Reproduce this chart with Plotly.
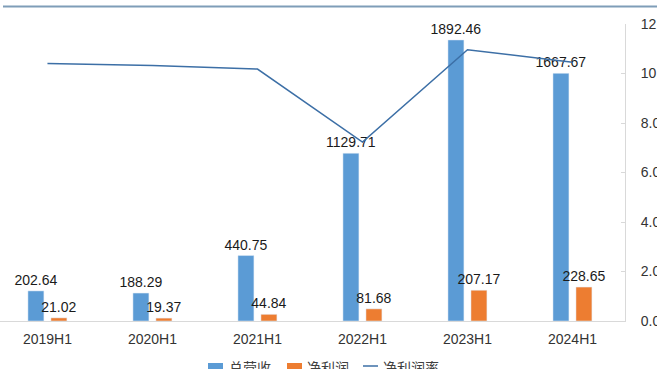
import plotly.graph_objects as go

categories = ["2019H1", "2020H1", "2021H1", "2022H1", "2023H1", "2024H1"]
revenue = [202.64, 188.29, 440.75, 1129.71, 1892.46, 1667.67]
net_profit = [21.02, 19.37, 44.84, 81.68, 207.17, 228.65]
net_margin = [10.40, 10.32, 10.18, 7.23, 10.96, 10.45]
right_ticks = [0, 2, 4, 6, 8, 10, 12]
right_ticktext = ["0.0%", "2.0%", "4.0%", "6.0%", "8.0%", "10.0%", "12.0%"]
legend_names = ["总营收", "净利润", "净利润率"]

W, H = 657, 369
L, R, T, B = 0, 32, 24, 48
PW, PH = W - L - R, H - T - B

BLUE = "#5B9BD5"
ORANGE = "#ED7D31"
LINE = "#3C6FA6"
FONT = "Liberation Sans, Arial, sans-serif"
CJK = "Noto Sans CJK SC, sans-serif"

def px(x):
    return (x - L) / PW

def py(y):
    return (H - B - y) / PH

xs = list(range(len(categories)))
bw = 0.152

fig = go.Figure()
fig.add_trace(go.Bar(
    x=xs, y=revenue, name=legend_names[0], marker_color=BLUE,
    width=bw, offset=-0.186,
    text=[f"{v:.2f}" for v in revenue], textposition="outside",
    constraintext="none",
    textfont=dict(family=FONT, size=14, color="#1a1a1a"),
    cliponaxis=False, showlegend=False,
))
fig.add_trace(go.Bar(
    x=xs, y=net_profit, name=legend_names[1], marker_color=ORANGE,
    width=bw, offset=0.033,
    text=[f"{v:.2f}" for v in net_profit], textposition="outside",
    constraintext="none",
    textfont=dict(family=FONT, size=14, color="#1a1a1a"),
    cliponaxis=False, showlegend=False,
))
fig.add_trace(go.Scatter(
    x=xs, y=net_margin, name=legend_names[2], mode="lines",
    line=dict(color=LINE, width=1.5), yaxis="y2", showlegend=False,
))

fig.update_layout(
    width=W, height=H,
    margin=dict(l=L, r=R, t=T, b=B, pad=0, autoexpand=False),
    paper_bgcolor="white", plot_bgcolor="white",
    barmode="overlay",
    font=dict(family=FONT, size=14, color="#333333"),
    xaxis=dict(
        range=[-0.452, 5.5], tickvals=xs, ticktext=categories,
        showgrid=False, zeroline=False, showline=True, linecolor="#d9d9d9",
        linewidth=1, ticks="", tickfont=dict(family=FONT, size=14, color="#333333"),
        ticklabelstandoff=5, automargin=False,
    ),
    yaxis=dict(range=[0, 2000], visible=False, showgrid=False, zeroline=False,
               automargin=False),
    yaxis2=dict(
        range=[0, 12], overlaying="y", side="right", tickvals=right_ticks,
        ticktext=right_ticktext, showgrid=False, zeroline=False,
        showline=True, linecolor="#d9d9d9", linewidth=1,
        ticks="inside", ticklen=4, tickcolor="#d9d9d9",
        tickfont=dict(family=FONT, size=14, color="#333333"),
        ticklabelstandoff=12, automargin=False, ticklabeloverflow="allow",
    ),
)

shapes = [
    dict(type="line", xref="paper", yref="paper", x0=px(3), x1=px(657),
         y0=py(6.5), y1=py(6.5), line=dict(color="#7F9DB8", width=2),
         layer="above"),
    dict(type="rect", xref="paper", yref="paper", x0=px(208), x1=px(223),
         y0=py(363), y1=py(371), fillcolor=BLUE, line=dict(width=0)),
    dict(type="rect", xref="paper", yref="paper", x0=px(287), x1=px(302),
         y0=py(363), y1=py(371), fillcolor=ORANGE, line=dict(width=0)),
    dict(type="line", xref="paper", yref="paper", x0=px(363), x1=px(378),
         y0=py(366), y1=py(366), line=dict(color=LINE, width=1.5)),
]
annotations = []
for name, x in zip(legend_names, [227, 305, 381]):
    annotations.append(dict(
        xref="paper", yref="paper", x=px(x), y=py(367), text=name,
        showarrow=False, xanchor="left", yanchor="middle",
        font=dict(family=CJK, size=14, color="#404040"),
    ))
fig.update_layout(shapes=shapes, annotations=annotations)

fig.write_html(
    "out.html",
    config={"displayModeBar": False},
    post_script="document.body.style.margin='0';document.body.style.overflow='hidden';",
)
